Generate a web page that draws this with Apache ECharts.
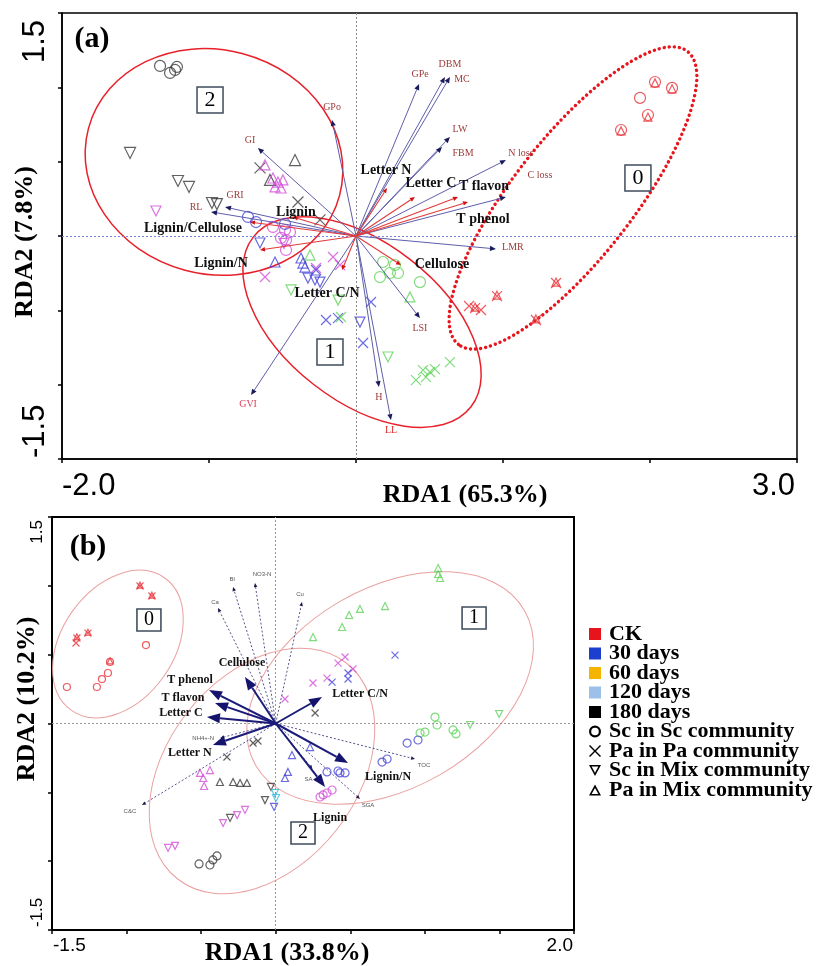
<!DOCTYPE html>
<html><head><meta charset="utf-8">
<script src="https://cdn.jsdelivr.net/npm/echarts@6/dist/echarts.min.js"></script>
<style>html,body{margin:0;padding:0;background:#fff}#c{width:838px;height:966px}</style>
</head><body><div id="c"></div>
<script>
// ---------- tick labels ----------
const a_xTicks = ['-2.0', '3.0'];
const a_yTicks = ['1.5', '-1.5'];
const b_xTicks = ['-1.5', '2.0'];
const b_yTicks = ['1.5', '-1.5'];

// ---------- panel (a) sample scores ----------
const a_blk_circle = [[-1.333,1.144],[-1.265,1.097],[-1.231,1.117],[-1.218,1.137]];
const a_blk_tdown  = [[-1.537,0.559],[-1.211,0.370],[-1.136,0.330],[-0.980,0.222],[-0.946,0.215]];
const a_blk_tup    = [[-0.415,0.511],[-0.585,0.377]];
const a_blk_cross  = [[-0.653,0.458],[-0.395,0.229],[-0.245,0.108]];
const a_mag_tup    = [[-0.619,0.478],[-0.565,0.390],[-0.531,0.363],[-0.497,0.377],[-0.551,0.330],[-0.510,0.323]];
const a_mag_tdown  = [[-1.361,0.168],[-0.490,-0.050]];
const a_mag_circle = [[-0.565,0.061],[-0.483,0.040],[-0.449,0.027],[-0.510,-0.013],[-0.476,-0.027],[-0.476,-0.094]];
const a_mag_cross  = [[-0.156,-0.141],[-0.109,-0.195],[-0.272,-0.215],[-0.619,-0.276]];
const a_blu_circle = [[-0.735,0.128],[-0.680,0.094],[-0.483,0.081]];
const a_blu_tdown  = [[-0.653,-0.047],[-0.327,-0.283],[-0.279,-0.296],[-0.245,-0.310],[0.027,-0.579]];
const a_blu_tup    = [[-0.374,-0.148],[-0.551,-0.175],[-0.347,-0.209],[-0.361,-0.182]];
const a_blu_cross  = [[-0.272,-0.229],[-0.204,-0.565],[-0.122,-0.552],[0.048,-0.720],[0.102,-0.444]];
const a_grn_circle = [[0.163,-0.276],[0.231,-0.249],[0.286,-0.249],[0.184,-0.175],[0.435,-0.310],[0.265,-0.195]];
const a_grn_tup    = [[0.367,-0.410],[-0.313,-0.128]];
const a_grn_tdown  = [[0.218,-0.814],[-0.122,-0.431],[-0.442,-0.363]];
const a_grn_cross  = [[0.456,-0.902],[0.503,-0.915],[0.537,-0.895],[0.408,-0.969],[0.639,-0.848],[0.476,-0.949],[-0.102,-0.545]];
const a_red_circle = [[2.034,1.036],[2.150,0.996],[1.932,0.929],[1.986,0.814],[1.803,0.713]];
const a_red_tup    = [[2.034,1.030],[2.150,0.990],[1.986,0.800],[1.803,0.707],[1.361,-0.310],[0.959,-0.398],[0.810,-0.478],[1.224,-0.558]];
const a_red_cross  = [[1.361,-0.316],[0.959,-0.404],[0.810,-0.485],[0.769,-0.471],[0.850,-0.498],[1.224,-0.565]];

// ---------- panel (a) biplot arrows [name, RDA1, RDA2] ----------
const a_response = [['GPe',0.429,1.023],['DBM',0.605,1.070],['MC',0.639,1.070],['LW',0.639,0.666],['FBM',0.585,0.599],
  ['N loss',1.020,0.511],['C loss',1.020,0.262],['LMR',0.952,-0.087],['GPo',-0.163,0.781],['GI',-0.667,0.592],
  ['GRI',-0.891,0.195],['RL',-0.986,0.162],['GVI',-0.714,-1.070],['LSI',0.435,-0.552],['H',0.156,-1.016],['LL',0.238,-1.238]];
const a_explan = [['Letter N',0.211,0.323],['Letter C',0.401,0.262],['T flavon',0.694,0.262],['T phenol',0.762,0.229],
  ['Cellulose',0.306,-0.195],['Lignin',-0.429,0.128],['Lignin/Cellulose',-0.721,0.094],['Lignin/N',-0.653,-0.094],['Letter C/N',-0.095,-0.229]];
// group ellipses [cx, cy, semi-major, semi-minor (x units), angle deg]
const a_ellipses = [[-0.966,0.498,0.884,0.762,-15],[0.041,-0.579,0.939,0.537,-38],[1.476,0.256,1.265,0.408,52]];
const a_groups = [[-0.993,0.915,'2'],[-0.177,-0.781,'1'],[1.918,0.390,'0']];

// ---------- panel (b) sample scores ----------
const b_red_circle = [[-1.400,0.265],[-1.199,0.265],[-1.165,0.323],[-1.125,0.367],[-1.111,0.447],[-0.870,0.570]];
const b_red_cross  = [[-0.910,0.999],[-0.830,0.926],[-1.259,0.657],[-1.333,0.621],[-1.339,0.585]];
const b_red_tup    = [[-0.910,1.005],[-0.830,0.932],[-1.259,0.663],[-1.111,0.455],[-1.333,0.630]];
const b_grn_tup    = [[1.089,1.129],[1.102,1.057],[1.089,1.086],[0.733,0.853],[0.565,0.832],[0.492,0.788],[0.445,0.701],[0.250,0.628]];
const b_grn_circle = [[1.068,0.047],[1.082,-0.011],[1.001,-0.062],[1.189,-0.047],[1.209,-0.076],[0.968,-0.069]];
const b_grn_tdown  = [[1.303,-0.011],[1.498,0.069]];
const b_blu_circle = [[0.881,-0.142],[0.954,-0.120],[0.713,-0.280],[0.747,-0.258],[0.431,-0.359],[0.465,-0.359],[0.344,-0.352],[0.418,-0.345]];
const b_mag_circle = [[0.297,-0.534],[0.344,-0.505],[0.378,-0.483],[0.318,-0.519]];
const b_mag_cross  = [[0.418,0.439],[0.465,0.483],[0.518,0.396],[0.250,0.294],[0.344,0.330],[0.062,0.178]];
const b_blu_cross  = [[0.378,0.301],[0.485,0.367],[0.485,0.323],[0.800,0.497]];
const b_blk_cross  = [[0.264,0.076],[-0.152,-0.142],[-0.119,-0.127],[-0.327,-0.243]];
const b_mag_tup    = [[-0.508,-0.359],[-0.486,-0.396],[-0.441,-0.338],[-0.480,-0.454]];
const b_blk_tup    = [[-0.374,-0.425],[-0.286,-0.425],[-0.239,-0.432],[-0.193,-0.432]];
const b_blk_tdown  = [[-0.032,-0.461],[-0.072,-0.556],[-0.306,-0.686]];
const b_cyn_tdown  = [[-0.005,-0.505],[0.002,-0.541]];
const b_blu_tdown  = [[-0.011,-0.606]];
const b_mag_tdown  = [[-0.353,-0.723],[-0.259,-0.665],[-0.206,-0.628],[-0.722,-0.904],[-0.675,-0.889]];
const b_blk_circle = [[-0.514,-1.020],[-0.441,-1.028],[-0.421,-0.991],[-0.394,-0.962]];
const b_blu_tup    = [[0.230,-0.171],[0.109,-0.229],[0.082,-0.352],[0.062,-0.396]];

// ---------- panel (b) biplot arrows ----------
const b_explan = [['Cellulose',-0.206,0.338],['T phenol',-0.447,0.243],['T flavon',-0.407,0.149],['Letter C',-0.461,0.047],
  ['Letter N',-0.421,-0.156],['Letter C/N',0.311,0.192],['Lignin/N',0.485,-0.287],['Lignin',0.331,-0.461]];
const b_response = [['Ca',-0.387,0.839],['Bl',-0.286,0.991],['NO3-N',-0.139,1.020],['Cu',0.176,0.882],['NH4+-N',-0.372,-0.105],
  ['C&C',-0.897,-0.592],['TOC',0.934,-0.258],['SGA',0.565,-0.548],['SA',0.246,-0.330]];
const b_ellipses = [[-1.058,0.577,0.543,0.376,55],[0.767,0.258,1.040,0.671,30],[-0.092,-0.345,0.919,0.637,52]];
const b_groups = [[-0.850,0.752,'0'],[1.330,0.766,'1'],[0.183,-0.795,'2']];

// ---------- legend ----------
const legendColors = [['CK','#e8141c'],['30 days','#1c3fd0'],['60 days','#f5b400'],['120 days','#9dc0e8'],['180 days','#000000']];
const legendShapes = ['Sc in Sc community','Pa in Pa community','Sc in Mix community','Pa in Mix community'];

// ---------- layout (label offsets in px, not data) ----------
const a_respOff = {GPe:[1,-10],DBM:[5,-13],MC:[12,2],LW:[10,-8],FBM:[21,6],'N loss':[15,-7],'C loss':[34,-22],LMR:[17,-2],
  GPo:[0,-13],GI:[-8,-8],GRI:[10,-12],RL:[-15,-5],GVI:[-3,9],LSI:[0,10],H:[0,10],LL:[0,10]};
const a_explOff = {'Letter N':[-1,-18],'Letter C':[16,-14],'T flavon':[26,-11],'T phenol':[15,17],Cellulose:[41,-1],
  Lignin:[3,-5],'Lignin/Cellulose':[-57,6],'Lignin/N':[-39,13],'Letter C/N':[-15,23]};
const b_explOff = {Cellulose:[-3,-14],'T phenol':[-19,-10],'T flavon':[-32,-5],'Letter C':[-26,-4],'Letter N':[-23,8],
  'Letter C/N':[38,-3],'Lignin/N':[40,14],Lignin:[5,31]};
const b_respOff = {Ca:[-3,-6],Bl:[-1,-8],'NO3-N':[7,-9],Cu:[-2,-8],'NH4+-N':[-17,0],'C&C':[-12,6],TOC:[9,6],SGA:[8,6],SA:[-4,10]};

const C = {red:'#e8323a', blu:'#4646d8', mag:'#d24fd8', grn:'#5fd35a', blk:'#3a3a3a', cyn:'#38bcd8'};
const SHAPES = {o:'circle', x:'path://M0,0L10,10M10,0L0,10', v:'path://M0,0L10,0L5,9Z', '^':'path://M5,0L10,9L0,9Z'};
const SERIF = '"Liberation Serif","Times New Roman",serif';
const SANS = '"Liberation Sans",Arial,sans-serif';

function pts(gi, data, color, shape, size) {
  return {type:'scatter', xAxisIndex:gi, yAxisIndex:gi, data:data, symbol:SHAPES[shape], symbolSize:size,
    itemStyle:{color:'rgba(0,0,0,0)', borderColor:color, borderWidth:1.2}, z:3, silent:true};
}
function arrows(gi, list, off, o) {
  return {type:'custom', xAxisIndex:gi, yAxisIndex:gi, z:o.z||4, silent:true,
    data:list.map(d=>[d[1],d[2]]),
    renderItem:function(params, api){
      const s = api.coord([0,0]);
      const t = api.coord([api.value(0), api.value(1)]);
      const dx=t[0]-s[0], dy=t[1]-s[1], L=Math.hypot(dx,dy)||1, ux=dx/L, uy=dy/L;
      const bx=t[0]-ux*o.hl, by=t[1]-uy*o.hl;
      const name=list[params.dataIndex][0], of=off[name]||[0,0];
      return {type:'group', children:[
        {type:'line', shape:{x1:s[0],y1:s[1],x2:bx,y2:by}, style:{stroke:o.line, lineWidth:o.lw, lineDash:o.dash||null}},
        {type:'polygon', shape:{points:[[t[0],t[1]],[bx-uy*o.hw,by+ux*o.hw],[bx+uy*o.hw,by-ux*o.hw]]}, style:{fill:o.head}},
        {type:'text', x:t[0]+of[0], y:t[1]+of[1], style:{text:name, fill:(o.colorOf&&o.colorOf[name])||o.text, font:o.font, align:'center', verticalAlign:'middle'}}
      ]};
    }};
}
function ellipses(gi, list, o) {
  return {type:'custom', xAxisIndex:gi, yAxisIndex:gi, z:1, silent:true, data:list,
    renderItem:function(params, api){
      const c = api.coord([api.value(0), api.value(1)]);
      const rx = api.size([api.value(2),0])[0], ry = api.size([api.value(3),0])[0];
      const st = o.styles[params.dataIndex];
      return {type:'ellipse', x:c[0], y:c[1], rotation:api.value(4)*Math.PI/180,
        shape:{cx:0,cy:0,rx:rx,ry:ry}, style:Object.assign({fill:'none'}, st)};
    }};
}
function boxes(gi, list, size, fs) {
  return {type:'scatter', xAxisIndex:gi, yAxisIndex:gi, data:list, symbol:'rect', symbolSize:size, z:5, silent:true,
    itemStyle:{color:'#fff', borderColor:'#3e4c5c', borderWidth:1.5, opacity:1},
    label:{show:true, position:'inside', formatter:p=>p.value[2], fontFamily:SERIF, fontSize:fs, color:'#000'}};
}
function zeroLines(gi, hColor, vColor) {
  return {type:'scatter', xAxisIndex:gi, yAxisIndex:gi, data:[], z:1, silent:true,
    markLine:{silent:true, symbol:['none','none'], label:{show:false}, animation:false,
      data:[{xAxis:0, lineStyle:{color:vColor, type:[2,2], width:1}}, {yAxis:0, lineStyle:{color:hColor, type:[2,2], width:1}}]}};
}
function axisX(gi, min, max, itv) {
  return {gridIndex:gi, type:'value', min:min, max:max, interval:itv, axisLabel:{show:false}, splitLine:{show:false},
    axisLine:{onZero:false, lineStyle:{color:'#000', width:gi?2:1.5}}, axisTick:{length:4, lineStyle:{color:'#000', width:1.5}}};
}
function axisY(gi, min, max, itv) {
  return {gridIndex:gi, type:'value', min:min, max:max, interval:itv, axisLabel:{show:false}, splitLine:{show:false},
    axisLine:{onZero:false, lineStyle:{color:'#000', width:gi?2:1.5}}, axisTick:{length:4, lineStyle:{color:'#000', width:1.5}}};
}

const series = [
  zeroLines(0, '#7c86d8', '#8a8a8a'),
  zeroLines(1, '#999999', '#999999'),
  ellipses(0, a_ellipses, {styles:[{stroke:'#e8202a',lineWidth:1.5},{stroke:'#e8202a',lineWidth:1.5},
    {stroke:'#e8141c',lineWidth:3.4,lineDash:[0.1,5],lineCap:'round'}]}),
  ellipses(1, b_ellipses, {styles:[{stroke:'#eaa0a0',lineWidth:1},{stroke:'#eaa0a0',lineWidth:1},{stroke:'#eaa0a0',lineWidth:1}]}),
  // panel a points
  pts(0,a_blk_circle,C.blk,'o',11), pts(0,a_blk_tdown,C.blk,'v',11), pts(0,a_blk_tup,C.blk,'^',11), pts(0,a_blk_cross,C.blk,'x',11),
  pts(0,a_mag_tup,C.mag,'^',10), pts(0,a_mag_tdown,C.mag,'v',10), pts(0,a_mag_circle,C.mag,'o',11), pts(0,a_mag_cross,C.mag,'x',10),
  pts(0,a_blu_circle,C.blu,'o',11), pts(0,a_blu_tdown,C.blu,'v',10), pts(0,a_blu_tup,C.blu,'^',10), pts(0,a_blu_cross,C.blu,'x',10),
  pts(0,a_grn_circle,C.grn,'o',11), pts(0,a_grn_tup,C.grn,'^',10), pts(0,a_grn_tdown,C.grn,'v',10), pts(0,a_grn_cross,C.grn,'x',10),
  pts(0,a_red_circle,C.red,'o',11), pts(0,a_red_tup,C.red,'^',8), pts(0,a_red_cross,C.red,'x',10),
  // panel b points
  pts(1,b_red_circle,C.red,'o',7), pts(1,b_red_cross,C.red,'x',7), pts(1,b_red_tup,C.red,'^',6),
  pts(1,b_grn_tup,C.grn,'^',7), pts(1,b_grn_circle,C.grn,'o',8), pts(1,b_grn_tdown,C.grn,'v',7),
  pts(1,b_blu_circle,C.blu,'o',8), pts(1,b_mag_circle,C.mag,'o',8), pts(1,b_mag_cross,C.mag,'x',7),
  pts(1,b_blu_cross,C.blu,'x',7), pts(1,b_blk_cross,C.blk,'x',7), pts(1,b_mag_tup,C.mag,'^',7),
  pts(1,b_blk_tup,C.blk,'^',7), pts(1,b_blk_tdown,C.blk,'v',7), pts(1,b_cyn_tdown,C.cyn,'v',7),
  pts(1,b_blu_tdown,C.blu,'v',7), pts(1,b_mag_tdown,C.mag,'v',7), pts(1,b_blk_circle,C.blk,'o',8), pts(1,b_blu_tup,C.blu,'^',7),
  // arrows
  arrows(0, a_response, a_respOff, {line:'#5e5eaa', lw:1, head:'#1a1a5c', hl:6, hw:2.6, text:'#9c3a3a',
    font:'10px '+SERIF, colorOf:{GVI:'#e0405a', LL:'#e02a2a'}}),
  arrows(0, a_explan, a_explOff, {line:'#e23a3a', lw:1.1, head:'#d41010', hl:5, hw:2.2, text:'#111', font:'bold 14px '+SERIF, z:5}),
  arrows(1, b_response, b_respOff, {line:'#55558f', lw:1, dash:[2,2], head:'#1a1a4a', hl:4, hw:1.8, text:'#555', font:'6px '+SANS}),
  arrows(1, b_explan, b_explOff, {line:'#1b1b7a', lw:2, head:'#14146e', hl:13, hw:5, text:'#111', font:'bold 12px '+SERIF, z:5}),
  boxes(0, a_groups, [26,26], 22), boxes(1, b_groups, [24,22], 20)
];
// legend carrier series
legendColors.forEach(d => series.push({type:'scatter', name:d[0], data:[], xAxisIndex:1, yAxisIndex:1, itemStyle:{color:d[1], opacity:1}}));
legendShapes.forEach(n => series.push({type:'scatter', name:n, data:[], xAxisIndex:1, yAxisIndex:1, itemStyle:{color:'#000', opacity:1}}));

const legendIcons = [
  'path://M6,0A6,6,0,1,1,5.99,0ZM6,2.2A3.8,3.8,0,1,0,6.01,2.2Z',
  'path://M1,0L6,5L11,0L12,1L7,6L12,11L11,12L6,7L1,12L0,11L5,6L0,1Z',
  'path://M0,0L12,0L6,11ZM2.6,1.4L6,7.8L9.4,1.4Z',
  'path://M6,0L12,11L0,11ZM6,3.4L2.6,9.6L9.4,9.6Z'
];

const option = {
  animation:false,
  backgroundColor:'#fff',
  grid:[
    {left:62, top:13, width:735, height:446, show:true, borderColor:'#000', borderWidth:1.5},
    {left:52, top:517, width:522, height:413, show:true, borderColor:'#000', borderWidth:2}
  ],
  xAxis:[axisX(0,-2,3,1), axisX(1,-1.5,2,0.5)],
  yAxis:[axisY(0,-1.5,1.5,0.5), axisY(1,-1.5,1.5,0.5)],
  legend:{orient:'vertical', left:584, top:618, itemWidth:12, itemHeight:12, itemGap:-2.5, selectedMode:false,
    itemStyle:{opacity:1},
    textStyle:{fontFamily:SERIF, fontWeight:'bold', fontSize:22, color:'#000', padding:[0,0,0,3]},
    data: legendColors.map(d=>({name:d[0], icon:'rect'})).concat(legendShapes.map((n,i)=>({name:n, icon:legendIcons[i]})))},
  series:series
};

const chart = echarts.init(document.getElementById('c'), null, {renderer:'canvas'});
chart.setOption(option);

// tick labels & titles positioned with the axes' own scales
const P = (g, v) => chart.convertToPixel({gridIndex:g}, v);
const txt = (x, y, text, font, align, rot, vAlign) => ({type:'text', x:x, y:y, rotation:rot||0, z:10,
  style:{text:text, font:font, fill:'#000', align:align, verticalAlign:vAlign||'middle'}});
const aBL = P(0,[parseFloat(a_xTicks[0]), parseFloat(a_yTicks[1])]);
const aTR = P(0,[parseFloat(a_xTicks[1]), parseFloat(a_yTicks[0])]);
const bBL = P(1,[parseFloat(b_xTicks[0]), parseFloat(b_yTicks[1])]);
const bTR = P(1,[parseFloat(b_xTicks[1]), parseFloat(b_yTicks[0])]);
const F1 = '31px '+SANS, F2a = '19px '+SANS, F2b = '17px '+SANS;
chart.setOption({graphic:[
  txt(aBL[0], aBL[1]+27, a_xTicks[0], F1, 'left'),
  txt(aTR[0]-2, aBL[1]+27, a_xTicks[1], F1, 'right'),
  txt(aBL[0]-27, aTR[1]+7, a_yTicks[0], F1, 'right', Math.PI/2),
  txt(aBL[0]-27, aBL[1]-1, a_yTicks[1], F1, 'left', Math.PI/2),
  txt(bBL[0]+1, bBL[1]+16, b_xTicks[0], F2a, 'left'),
  txt(bTR[0]-1, bBL[1]+16, b_xTicks[1], F2a, 'right'),
  txt(bBL[0]-15, bTR[1]+3, b_yTicks[0], F2b, 'right', Math.PI/2),
  txt(bBL[0]-15, bBL[1]-3, b_yTicks[1], F2b, 'left', Math.PI/2),
  txt(465, 495, 'RDA1 (65.3%)', 'bold 26px '+SERIF, 'center'),
  txt(25, 242, 'RDA2 (7.8%)', 'bold 26px '+SERIF, 'center', Math.PI/2),
  txt(287, 953, 'RDA1 (33.8%)', 'bold 26px '+SERIF, 'center'),
  txt(27, 699, 'RDA2 (10.2%)', 'bold 26px '+SERIF, 'center', Math.PI/2),
  txt(92, 39, '(a)', 'bold 30px '+SERIF, 'center'),
  txt(88, 547, '(b)', 'bold 30px '+SERIF, 'center')
]});
</script></body></html>
